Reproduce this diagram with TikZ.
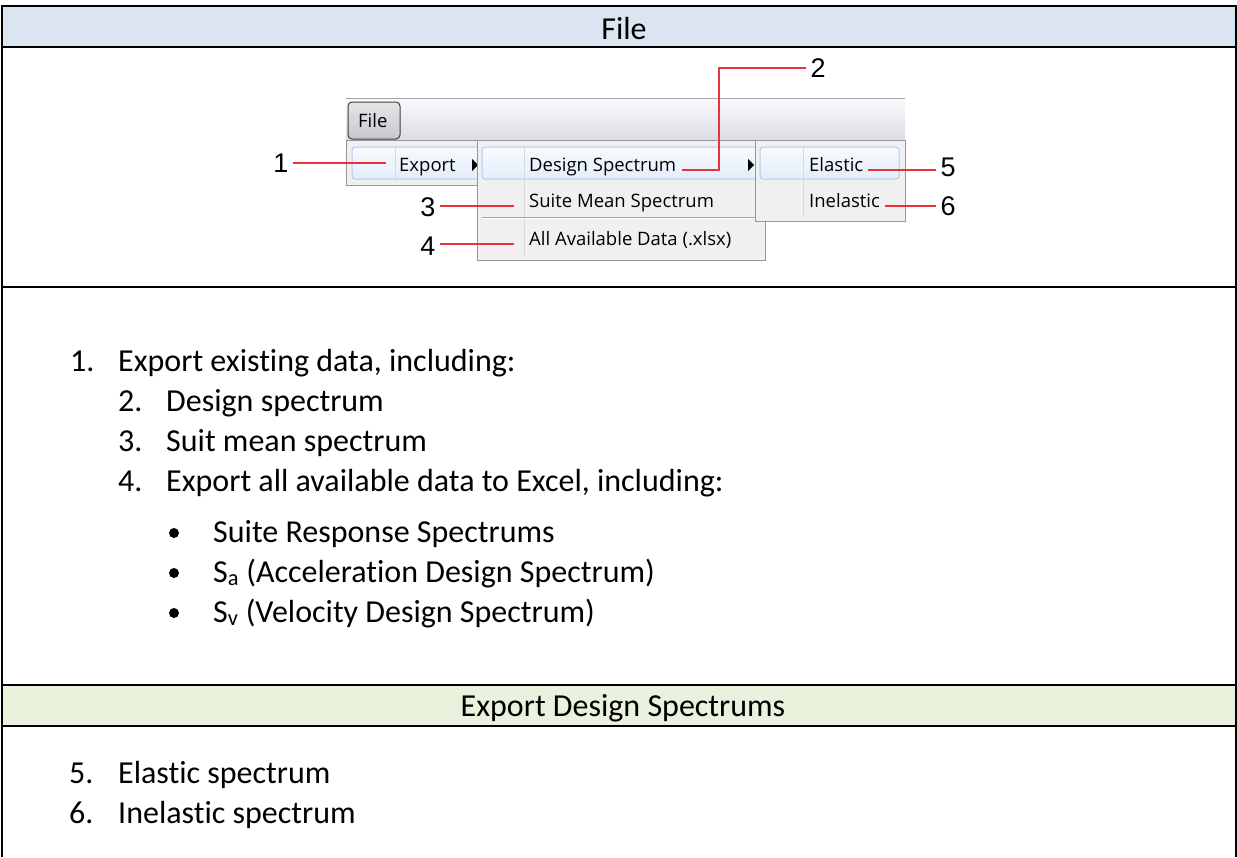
\documentclass[tikz,border=0pt]{standalone}
\usepackage{fontspec}
\setmainfont{Carlito}[Ligatures=NoCommon]
\newfontfamily\menufont{Open Sans}
\newfontfamily\numfont{Liberation Sans}
\usetikzlibrary{positioning}

\definecolor{headblue}{HTML}{DBE5F1}
\definecolor{headgreen}{HTML}{EAF1DD}
\definecolor{menubg}{HTML}{F0F0F0}
\definecolor{menuedge}{HTML}{979797}
\definecolor{hiedge}{HTML}{AECBEF}
\definecolor{leadred}{HTML}{E8323C}

\begin{document}
\begin{tikzpicture}[x=1pt, y=-1pt,
        rowline/.style={line width=2pt},
        menubox/.style={draw=menuedge, fill=menubg, line width=1pt},
        hilite/.style={draw=hiedge, line width=1pt, rounded corners=3pt, top color=white!60!hiedge!20, bottom color=hiedge!35},
        menuitem/.style={font=\menufont\fontsize{18.5}{18.5}\selectfont, anchor=base west, inner sep=0pt},
        callout/.style={font=\numfont\fontsize{27}{27}\selectfont, inner sep=0pt},
        leader/.style={draw=leadred, line width=1.2pt},
        heading/.style={font=\fontsize{32}{32}\selectfont, anchor=base, inner sep=0pt},
        body/.style={font=\fontsize{32}{32}\selectfont, anchor=base west, inner sep=0pt}
    ]
    \useasboundingbox (0,0) rectangle (1237,857);

    % table rows
    \fill[headblue] (1,6) rectangle (1236,47);
    \fill[headgreen] (1,685) rectangle (1236,726);
    \draw[rowline] (1.5,857) -- (1.5,6) -- (1235.5,6) -- (1235.5,857);
    \foreach \y in {6,47,287,685,726}
        \draw[rowline] (1,\y) -- (1236,\y);

    \node[heading] (filehead) at (624,39) {File};
    \node[heading] (exphead) at (623,716) {Export Design Spectrums};

    % menu bar with the File button
    \shade[top color=white!80!blue!10, bottom color=blue!12!gray!25] (346,98) rectangle (905,140);
    \draw[gray!70, line width=1pt] (346,98) -- (905,98);
    \draw[gray!50!black, line width=1pt, rounded corners=4pt, top color=gray!20, bottom color=blue!10!gray!40]
        (348,102) rectangle (400,139);
    \node[menuitem] (filebtn) at (358,127) {File};

    % first drop-down
    \draw[menubox] (346,140) rectangle (478,185);
    \draw[hilite] (352,147) rectangle (481,179);
    \draw[white!85!black] (395,148) -- (395,178);
    \node[menuitem] (exp) at (399,171) {Export};
    \fill (472,159) -- (478,165) -- (472,171) -- cycle;

    % second drop-down
    \draw[menubox] (477,140) rectangle (765,260);
    \draw[hilite] (482,147) rectangle (759,179);
    \draw[white!85!black] (524,148) -- (524,256);
    \draw[gray!70] (482,217) -- (760,217);
    \draw[white] (482,218) -- (760,218);
    \node[menuitem] (dspec) at (529,171) {Design Spectrum};
    \node[menuitem] (smean) at (529,207) {Suite Mean Spectrum};
    \node[menuitem] (alldata) at (529,245) {All Available Data (.xlsx)};
    \fill (748,159) -- (754,165) -- (748,171) -- cycle;

    % third drop-down
    \draw[menubox] (755,140) rectangle (905,221);
    \draw[hilite] (760,147) rectangle (899,179);
    \draw[white!85!black] (803,148) -- (803,217);
    \node[menuitem] (elas) at (809,171) {Elastic};
    \node[menuitem] (inelas) at (809,207) {Inelastic};

    % numbered callouts
    \node[callout] (n1) at (281,163) {1};
    \node[callout] (n2) at (818,68) {2};
    \node[callout] (n3) at (428,207) {3};
    \node[callout] (n4) at (428,246) {4};
    \node[callout] (n5) at (948,167) {5};
    \node[callout] (n6) at (948,206) {6};

    \coordinate (c1) at (386,163);
    \coordinate (c2) at (682,170);
    \coordinate (c3) at (514,206);
    \coordinate (c4) at (514,244);
    \coordinate (c5) at (868,170);
    \coordinate (c6) at (885,206);

    \draw[leader] ([xshift=4pt]n1.east) -- (c1);
    \draw[leader] ([xshift=-4pt]n2.west) -- (719,68) -- (719,170) -- (c2);
    \draw[leader] ([xshift=4pt]n3.east |- c3) -- (c3);
    \draw[leader] ([xshift=4pt]n4.east |- c4) -- (c4);
    \draw[leader] (c5) -- ([xshift=-4pt]n5.west |- c5);
    \draw[leader] (c6) -- ([xshift=-4pt]n6.west |- c6);

    % description list
    \node[body] (i1) at (70,371) {1.};
    \node[body] (t1) at (118,371) {Export existing data, including:};
    \foreach \k/\txt [count=\r] in {2/Design spectrum, 3/Suit mean spectrum, 4/{Export all available data to Excel, including:}} {
        \node[body] (i\k) at (118,371+40*\r) {\k.};
        \node[body] (t\k) at (166,371+40*\r) {\txt};
    }
    \foreach \txt [count=\r] in {Suite Response Spectrums, S\textsubscript{a} (Acceleration Design Spectrum), S\textsubscript{v} (Velocity Design Spectrum)} {
        \fill (174,493+40*\r) circle (5pt);
        \node[body] (b\r) at (213,502+40*\r) {\txt};
    }

    \node[body] (i5) at (69,783) {5.};
    \node[body] (t5) at (118,783) {Elastic spectrum};
    \node[body] (i6) at (69,823) {6.};
    \node[body] (t6) at (118,823) {Inelastic spectrum};
\end{tikzpicture}
\end{document}
